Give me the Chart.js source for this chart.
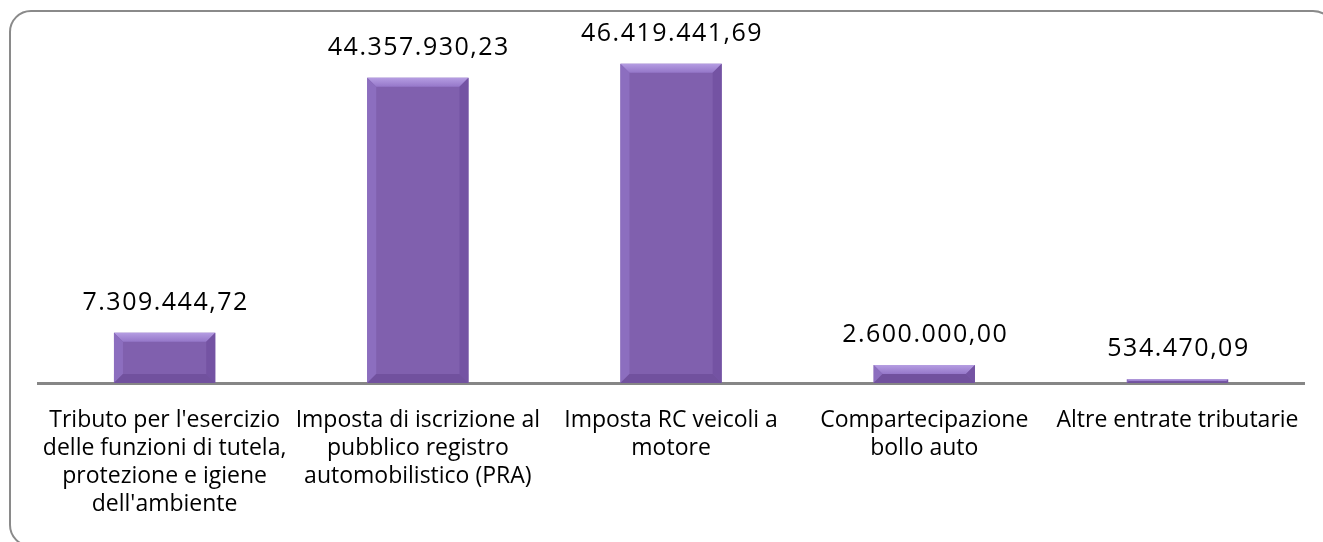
<!DOCTYPE html>
<html>
<head>
<meta charset="utf-8">
<script src="https://cdn.jsdelivr.net/npm/chart.js@4.4.1/dist/chart.umd.min.js"></script>
<style>
  html, body { margin: 0; padding: 0; background: #fff; overflow: hidden; }
  #wrap { position: relative; width: 1323px; height: 542px; overflow: hidden; }
  #frame {
    position: absolute; left: 9px; top: 10px; width: 1326px; height: 537px;
    border: 2px solid #8a8a8a; border-radius: 22px; box-sizing: border-box;
  }
  #myChart { position: absolute; left: 0; top: 0; }
</style>
</head>
<body>
<div id="wrap">
  <div id="frame"></div>
  <canvas id="myChart" width="1323" height="542"></canvas>
</div>
<script>
// categories (already wrapped the way the original shows them)
const categories = [
  ["Tributo per l'esercizio", "delle funzioni di tutela,", "protezione e igiene", "dell'ambiente"],
  ["Imposta di iscrizione al", "pubblico registro", "automobilistico (PRA)"],
  ["Imposta RC veicoli a", "motore"],
  ["Compartecipazione", "bollo auto"],
  ["Altre entrate tributarie"],
];
const values = [7309444.72, 44357930.23, 46419441.69, 2600000.0, 534470.09];
const yMax = 50000000;

const FONT = "'Open Sans', sans-serif";

// 1234567.8 -> "1.234.567,80"
function formatIt(v) {
  const parts = v.toFixed(2).split(".");
  const intPart = parts[0].replace(/\B(?=(\d{3})+(?!\d))/g, ".");
  return intPart + "," + parts[1];
}

// bevel look for the bars
const bevelPlugin = {
  id: "bevel",
  afterDatasetsDraw(chart) {
    const ctx = chart.ctx;
    chart.getDatasetMeta(0).data.forEach((bar) => {
      const left = bar.x - bar.width / 2;
      const right = bar.x + bar.width / 2;
      const top = bar.y;
      const bottom = bar.base;
      const h = bottom - top;
      const b = Math.min(9, h / 2, bar.width / 2);
      if (h <= 0) return;
      ctx.save();
      // top
      let g = ctx.createLinearGradient(0, top, 0, top + b);
      g.addColorStop(0, "#b59de2");
      g.addColorStop(1, "#9577c9");
      ctx.fillStyle = g;
      ctx.beginPath();
      ctx.moveTo(left, top);
      ctx.lineTo(right, top);
      ctx.lineTo(right - b, top + b);
      ctx.lineTo(left + b, top + b);
      ctx.closePath();
      ctx.fill();
      // left
      ctx.fillStyle = "#8c6ebf";
      ctx.beginPath();
      ctx.moveTo(left, top);
      ctx.lineTo(left + b, top + b);
      ctx.lineTo(left + b, bottom - b);
      ctx.lineTo(left, bottom);
      ctx.closePath();
      ctx.fill();
      // right
      ctx.fillStyle = "#7453a3";
      ctx.beginPath();
      ctx.moveTo(right, top);
      ctx.lineTo(right - b, top + b);
      ctx.lineTo(right - b, bottom - b);
      ctx.lineTo(right, bottom);
      ctx.closePath();
      ctx.fill();
      // bottom
      ctx.fillStyle = "#71519e";
      ctx.beginPath();
      ctx.moveTo(left, bottom);
      ctx.lineTo(left + b, bottom - b);
      ctx.lineTo(right - b, bottom - b);
      ctx.lineTo(right, bottom);
      ctx.closePath();
      ctx.fill();
      ctx.restore();
    });
  },
};

// value labels above the bars
const valueLabels = {
  id: "valueLabels",
  afterDatasetsDraw(chart) {
    const ctx = chart.ctx;
    const meta = chart.getDatasetMeta(0);
    ctx.save();
    ctx.font = "25px " + FONT;
    if ("letterSpacing" in ctx) ctx.letterSpacing = "1.5px"; // original digits are a bit wider
    ctx.fillStyle = "#000";
    ctx.textAlign = "center";
    ctx.textBaseline = "alphabetic";
    meta.data.forEach((bar, i) => {
      ctx.fillText(formatIt(values[i]), bar.x + 1, bar.y - 23);
    });
    ctx.restore();
  },
};

new Chart(document.getElementById("myChart"), {
  type: "bar",
  data: {
    labels: categories,
    datasets: [
      {
        data: values,
        backgroundColor: "#8060ae",
        borderWidth: 0,
        barPercentage: 0.8,
        categoryPercentage: 0.5,
      },
    ],
  },
  options: {
    responsive: false,
    animation: false,
    events: [],
    layout: { padding: { left: 38, right: 15, top: 39, bottom: 1 } },
    plugins: {
      legend: { display: false },
      tooltip: { enabled: false },
    },
    scales: {
      x: {
        grid: { display: false, drawTicks: false },
        border: { display: true, color: "#868686", width: 3 },
        ticks: {
          color: "#000",
          font: { family: FONT, size: 23, lineHeight: "28px" },
          padding: 23,
          autoSkip: false,
          minRotation: 0,
          maxRotation: 0,
        },
      },
      y: {
        display: false,
        min: 0,
        max: yMax,
      },
    },
  },
  plugins: [bevelPlugin, valueLabels],
});
</script>
</body>
</html>
